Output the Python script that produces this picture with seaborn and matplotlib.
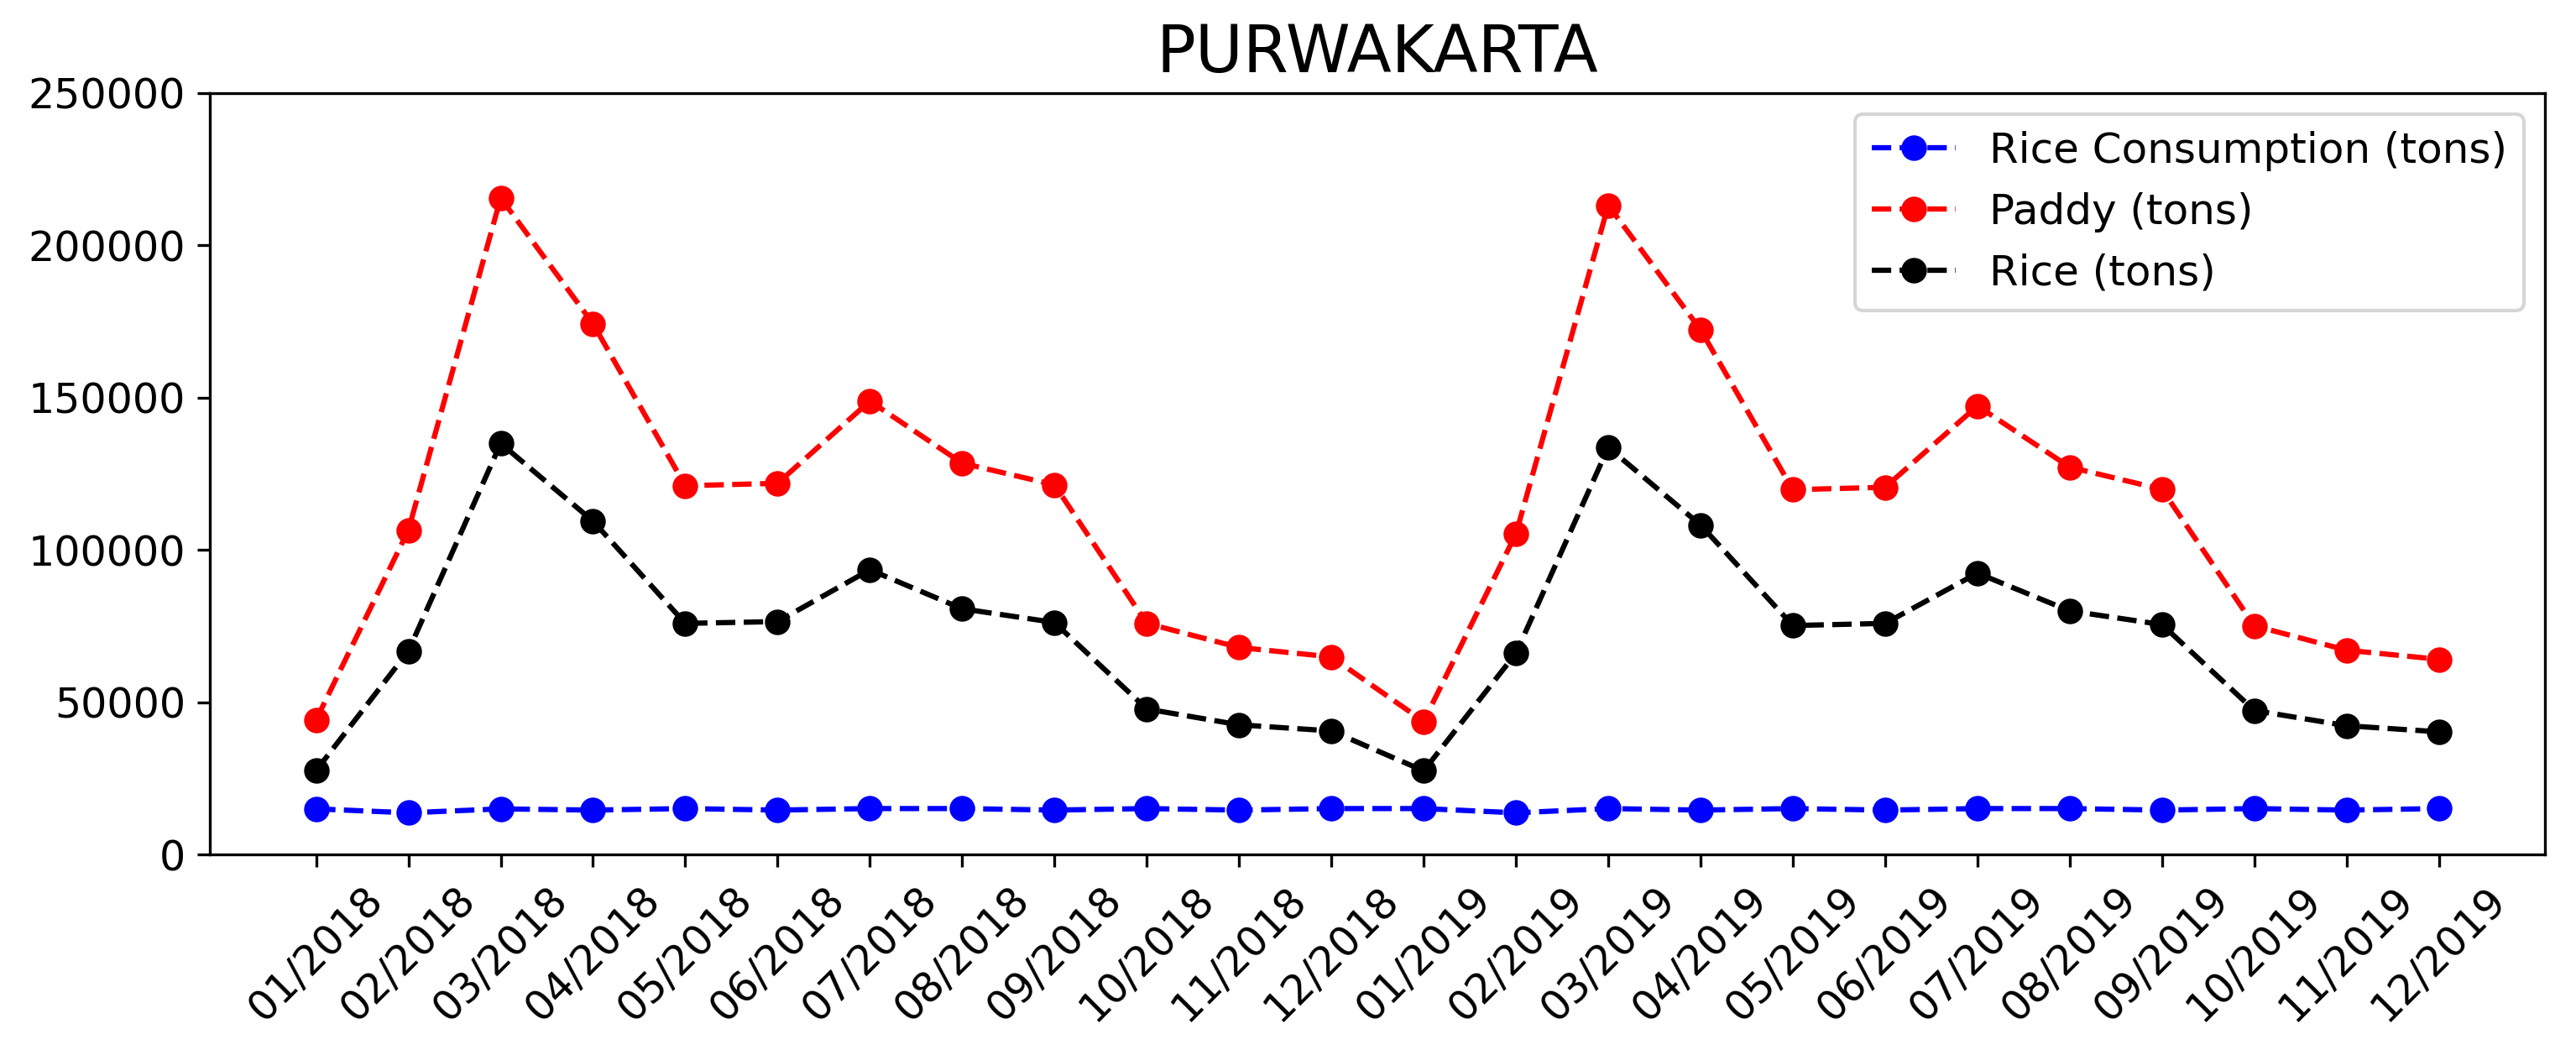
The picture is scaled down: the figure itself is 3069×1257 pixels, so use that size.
import matplotlib
matplotlib.use("Agg")
import matplotlib.pyplot as plt
import seaborn as sns
import pandas as pd

months = [
    "01/2018", "02/2018", "03/2018", "04/2018", "05/2018", "06/2018",
    "07/2018", "08/2018", "09/2018", "10/2018", "11/2018", "12/2018",
    "01/2019", "02/2019", "03/2019", "04/2019", "05/2019", "06/2019",
    "07/2019", "08/2019", "09/2019", "10/2019", "11/2019", "12/2019",
]

consumption = [
    15000, 13700, 15000, 14600, 15100, 14600, 15100, 15100, 14600, 15100, 14600, 15100,
    15100, 13700, 15100, 14600, 15100, 14600, 15100, 15100, 14600, 15100, 14600, 15100,
]
paddy = [
    44200, 106500, 215600, 174300, 121100, 121900, 148900, 128500, 121400, 75900, 68000, 64900,
    43700, 105300, 213200, 172300, 119800, 120600, 147300, 127200, 119900, 75100, 67100, 64100,
]
rice = [
    27600, 66800, 135000, 109500, 75900, 76500, 93500, 80700, 76200, 47800, 42600, 40600,
    27500, 66100, 133700, 108200, 75200, 75900, 92400, 80000, 75500, 47300, 42300, 40300,
]

series = [
    ("Rice Consumption (tons)", consumption, "blue"),
    ("Paddy (tons)", paddy, "red"),
    ("Rice (tons)", rice, "black"),
]

plt.rcParams["font.family"] = ["DejaVu Sans"]

fig, ax = plt.subplots(figsize=(10.23, 4.19))
fig.subplots_adjust(left=0.0815, right=0.988, top=0.9117, bottom=0.19)

for label, values, color in series:
    df = pd.DataFrame({"month": months, "value": values})
    sns.lineplot(data=df, x="month", y="value", ax=ax, label=label,
                 color=color, linestyle="--", marker="o", markersize=6.3,
                 markeredgecolor=color, markeredgewidth=1, linewidth=1.5,
                 sort=False)

ax.set_ylim(0, 250000)
ax.set_yticks([0, 50000, 100000, 150000, 200000, 250000])
ax.set_xlabel("")
ax.set_ylabel("")
ax.set_title("PURWAKARTA", fontsize=18.7)
ax.tick_params(axis="both", labelsize=11.8)
plt.setp(ax.get_xticklabels(), rotation=45)
ax.legend(loc="upper right", fontsize=12)

plt.savefig("out.png", dpi=300)
plt.close()
